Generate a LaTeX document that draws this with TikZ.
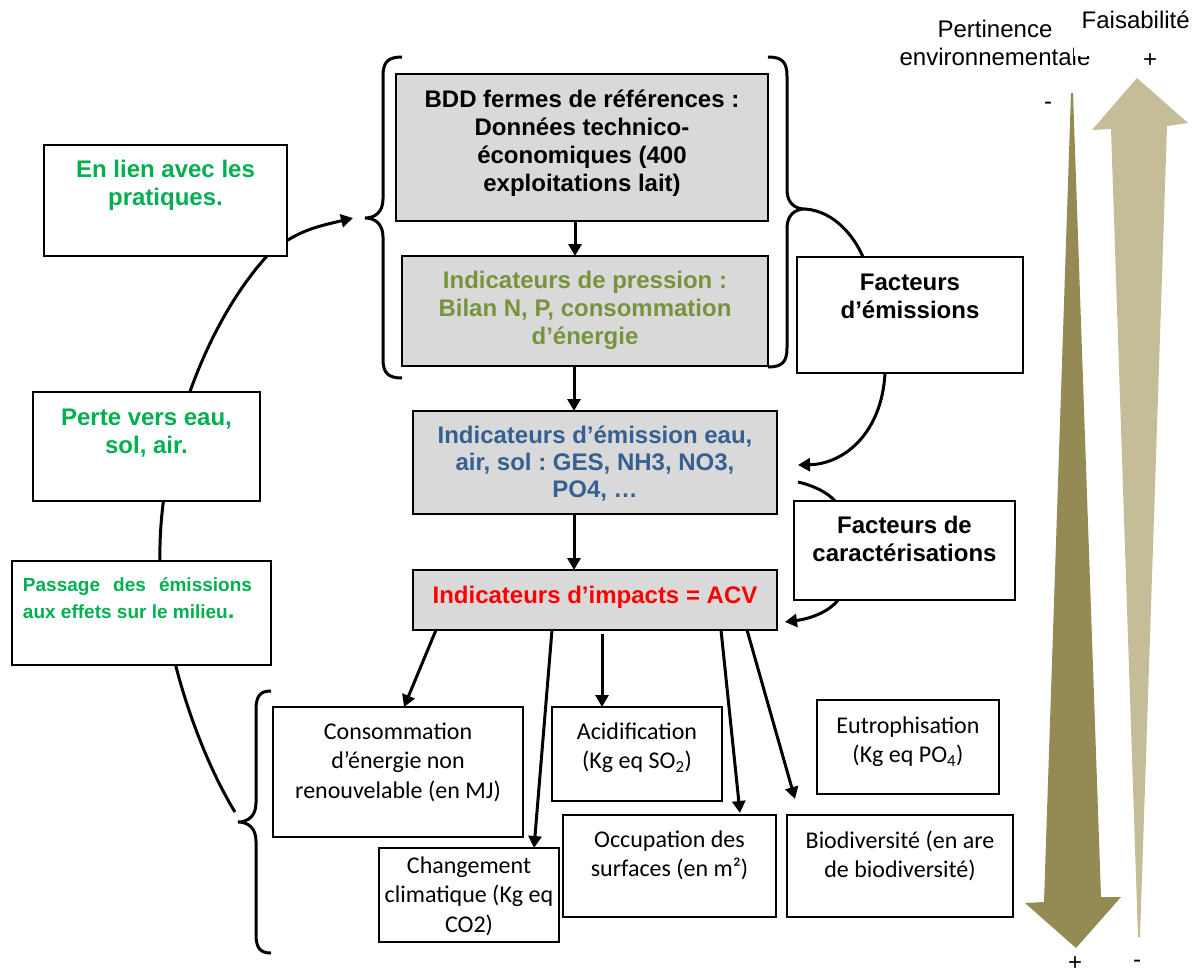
\documentclass[tikz,border=0pt]{standalone}
\usepackage{fontspec}
\setmainfont{Liberation Sans}
\newfontfamily\calib{Carlito}
\usetikzlibrary{arrows.meta}
\definecolor{vert}{HTML}{00B050}
\definecolor{olivetxt}{HTML}{77933C}
\definecolor{bleu}{HTML}{376092}
\definecolor{grisbox}{HTML}{D9D9D9}
\definecolor{darkol}{HTML}{948A54}
\definecolor{lighttan}{HTML}{C4BD97}
\newcommand\btxt[4]{\parbox[t][#2][t]{#1}{\centering\rule{0pt}{#3}#4\par}}
\tikzset{
  box/.style={draw=black, line width=2pt, fill=white, inner sep=0pt, outer sep=0pt, anchor=north west},
  gbox/.style={box, fill=grisbox},
  conn/.style={line width=3pt},
  arr/.style={conn, -{Triangle[length=12pt,width=13pt]}},
  bt/.style={font=\fontsize{24pt}{28pt}\selectfont\bfseries},
  ct/.style={font=\calib\fontsize{24pt}{29.5pt}\selectfont},
  lab/.style={font=\fontsize{24pt}{28pt}\selectfont, inner sep=0pt, anchor=base}
}
\frenchspacing
\begin{document}
\frenchspacing
\begin{tikzpicture}[x=1pt,y=-1pt]
\useasboundingbox (0,0) rectangle (1197,975);

% big shaded arrows
\fill[darkol] (1071,93) -- (1073,93) -- (1101,897) -- (1121,897) -- (1076,948) -- (1025,903) -- (1044,902) -- cycle;
\fill[lighttan] (1138,937) -- (1111,129) -- (1092,130) -- (1137,78) -- (1188,123) -- (1167,126) -- (1140,937) -- cycle;

% labels of the arrows
\node[lab] (pert) at (995,37) {Pertinence};
\node[lab] (env) at (995,65) {environnementale};
\node[fill=white, inner sep=0pt, anchor=north west, font=\fontsize{24pt}{28pt}\selectfont] (faisa) at (1074,0) {\parbox[t][56pt][t]{123pt}{\centering\rule{0pt}{28pt}Faisabilité}};
\node[lab] (plustop) at (1150,67) {+};
\node[lab] (minustop) at (1048,109) {-};
\node[lab] (plusbot) at (1075,970) {+};
\node[lab] (minusbot) at (1137,967) {-};

% brace tips
\coordinate (lbtip) at (365,218);
\coordinate (rbtip) at (805,209);
\coordinate (bbtip) at (238,822);

% big left arc (behind the boxes)
\draw[arr] ([xshift=-3pt,yshift=10pt]bbtip) .. controls (200,755) and (162,650) .. (160,560)
   .. controls (158,460) and (200,330) .. (267,256)
   .. controls (295,230) and (320,226) .. ([xshift=-12pt]lbtip);

% braces
\draw[conn] (402,57) .. controls (388,57) and (383,62) .. (383,76) -- (383,199)
  .. controls (383,212) and (375,218) .. (lbtip) .. controls (375,218) and (383,224) .. (383,237)
  -- (383,359) .. controls (383,373) and (388,378) .. (402,378);
\draw[conn] (768,57) .. controls (782,57) and (787,62) .. (787,76) -- (787,190)
  .. controls (787,203) and (795,209) .. (rbtip) .. controls (795,209) and (787,215) .. (787,228)
  -- (787,348) .. controls (787,362) and (782,367) .. (768,367);
\draw[conn] (271,691) .. controls (260,691) and (256,696) .. (256,710) -- (256,803)
  .. controls (256,816) and (248,822) .. (bbtip) .. controls (248,822) and (256,828) .. (256,841)
  -- (256,934) .. controls (256,948) and (260,953) .. (271,953);

% central chain
\node[gbox,bt] (bdd) at (396,74) {\btxt{372pt}{147pt}{33pt}{BDD fermes de références :\\Données technico-\\économiques (400\\exploitations lait)}};
\node[gbox,bt,text=olivetxt] (press) at (402,256) {\btxt{366pt}{110pt}{32pt}{Indicateurs de pression :\\Bilan N, P, consommation\\d’énergie}};
\node[gbox,text=bleu,font=\fontsize{24pt}{27pt}\selectfont\bfseries] (emis) at (413,411) {\btxt{364pt}{103pt}{32pt}{Indicateurs d’émission eau,\\air, sol : GES, NH3, NO3,\\PO4, …}};
\node[gbox,bt,text=red] (imp) at (413,570) {\btxt{364pt}{60pt}{33pt}{Indicateurs d’impacts = ACV}};

% right boxes
\node[box,bt] (femi) at (797,257) {\btxt{226pt}{116pt}{33pt}{Facteurs\\d’émissions}};
\node[box,bt] (fcar) at (794,501) {\btxt{221pt}{99pt}{32pt}{Facteurs de\\caractérisations}};

% left boxes
\node[box,bt,text=vert] (lien) at (44,145) {\btxt{243pt}{111pt}{32pt}{En lien avec les\\pratiques.}};
\node[box,bt,text=vert] (perte) at (33,392) {\btxt{227pt}{109pt}{33pt}{Perte vers eau,\\sol, air.}};
\node[box,text=vert,font=\fontsize{19pt}{27pt}\selectfont\bfseries] (pass) at (12,561) {\parbox[t][104pt][t]{259pt}{\rule{0pt}{30pt}\hspace*{11pt}\makebox[229pt][s]{Passage des émissions}\\\hspace*{11pt}aux effets sur le milieu{\fontsize{24pt}{27pt}\selectfont.}}};

% bottom boxes
\node[box,ct] (cons) at (273,707) {\btxt{250pt}{130pt}{32pt}{Consommation\\d’énergie non\\renouvelable (en MJ)}};
\node[box,ct] (acid) at (552,707) {\btxt{170pt}{94pt}{32pt}{Acidification\\(Kg eq SO\textsubscript{2})}};
\node[box,ct] (eutro) at (817,700) {\btxt{182pt}{94pt}{33pt}{Eutrophisation\\(Kg eq PO\textsubscript{4})}};
\node[box,ct] (chang) at (379,848) {\btxt{180pt}{94pt}{25pt}{Changement\\climatique (Kg eq\\CO2)}};
\node[box,ct] (occup) at (563,815) {\btxt{213pt}{102pt}{32pt}{Occupation des\\surfaces (en m²)}};
\node[box,ct] (bio) at (787,815) {\btxt{226pt}{102pt}{33pt}{Biodiversité (en are\\de biodiversité)}};

% vertical chain arrows
\draw[arr] ([xshift=-7pt]bdd.south) -- ([xshift=-7pt]bdd.south |- press.north);
\draw[arr] ([xshift=-11pt]press.south) -- ([xshift=-11pt]press.south |- emis.north);
\draw[arr] ([xshift=-21pt]emis.south) -- ([xshift=-21pt]emis.south |- imp.north);

% impacts to categories
\draw[arr] ([xshift=23pt]imp.south west) -- ([xshift=131pt]cons.north west);
\draw[arr] ([xshift=139pt]imp.south west) -- ([xshift=155pt]chang.north west);
\draw[arr] ([xshift=189pt,yshift=-4pt]imp.south west) -- ([xshift=50pt]acid.north west);
\draw[arr] ([xshift=308pt]imp.south west) -- ([xshift=177pt,yshift=2pt]occup.north west);
\draw[arr] ([xshift=334pt]imp.south west) -- ([xshift=8pt,yshift=16pt]bio.north west);

% factor curves
\draw[conn] (rbtip) .. controls (835,211) and (855,238) .. ([xshift=66pt]femi.north west);
\draw[arr] ([xshift=88pt]femi.south west) .. controls (882,432) and (845,464) .. ([xshift=21pt,yshift=-2.5pt]emis.east);
\draw[conn] ([xshift=21pt,yshift=-19.5pt]emis.east) .. controls (815,486) and (828,493) .. ([xshift=41pt]fcar.north west);
\draw[arr] ([xshift=44pt]fcar.south west) .. controls (828,613) and (808,619) .. ([xshift=8pt,yshift=-22pt]imp.east);
\end{tikzpicture}
\end{document}
